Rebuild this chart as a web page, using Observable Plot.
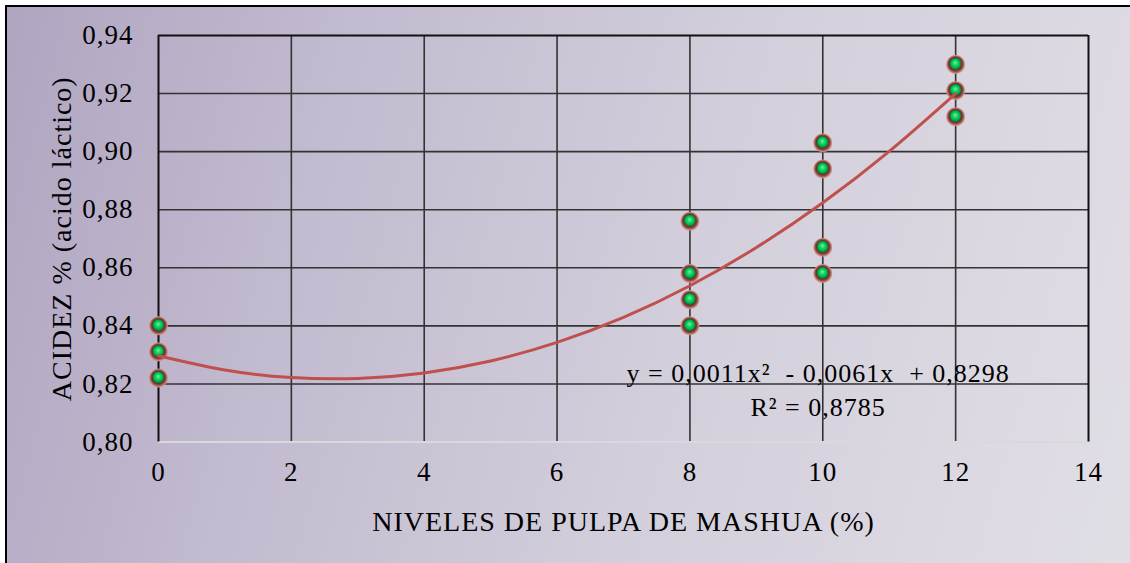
<!DOCTYPE html>
<html>
<head>
<meta charset="utf-8">
<script src="https://cdn.jsdelivr.net/npm/d3@7"></script>
<script src="https://cdn.jsdelivr.net/npm/@observablehq/plot@0.6"></script>
<style>
  html, body { margin: 0; padding: 0; background: #fff; overflow: hidden; }
  #wrap { position: relative; width: 1130px; height: 563px; overflow: hidden; background: #fff; }
  #bg { position: absolute; left: 5px; top: 5px; width: 1200px; height: 600px;
        border-left: 2px solid #000; border-top: 2px solid #000;
        background: linear-gradient(105deg, #b0a5c1 0%, #c2bacf 25%, #d2cedb 55%, #dcd9e2 80%, #e2e0e7 100%); }
  #chart { position: absolute; left: 0; top: 0; }
  #chart svg, #chart svg text { font-family: 'Liberation Serif', 'Times New Roman', serif !important; letter-spacing: 1px; }
</style>
</head>
<body>
<div id="wrap"><div id="bg"></div><div id="chart"></div></div>
<script>
// Observed points
const niveles = [0, 0, 0, 8, 8, 8, 8, 10, 10, 10, 10, 12, 12, 12];
const acidez  = [0.840, 0.831, 0.822, 0.876, 0.858, 0.849, 0.840, 0.903, 0.894, 0.867, 0.858, 0.930, 0.921, 0.912];
// Polynomial trend line
const trendX = [0, 1, 2, 3, 4, 5, 6, 7, 8, 9, 10, 11, 12];
const trendY = [0.8297, 0.8248, 0.8222, 0.8219, 0.8238, 0.8279, 0.8343, 0.8429, 0.8538, 0.8670, 0.8824, 0.9001, 0.9200];
// Ticks
const xTicks = [0, 2, 4, 6, 8, 10, 12, 14];
const yTicks = [0.80, 0.82, 0.84, 0.86, 0.88, 0.90, 0.92, 0.94];
const xLabel = "NIVELES DE PULPA DE MASHUA (%)";
const yLabel = "ACIDEZ % (acido láctico)";
const equation = "y = 0,0011x\u00b2 \u00a0- 0,0061x \u00a0+ 0,8298\nR\u00b2 = 0,8785";

const points = niveles.map((x, i) => ({x, y: acidez[i]}));
const trend = trendX.map((x, i) => ({x, y: trendY[i]}));
const fmt = d => d.toFixed(2).replace(".", ",");
const font = "Liberation Serif";

const chart = Plot.plot({
  width: 1130,
  height: 563,
  marginLeft: 158,
  marginRight: 42,
  marginTop: 35,
  marginBottom: 121.5,
  style: {background: "transparent", color: "#000"},
  x: {domain: [0, 14], ticks: xTicks},
  y: {domain: [0.80, 0.94], ticks: yTicks},
  marks: [
    Plot.gridX(xTicks.filter(d => d > 0 && d < 14), {stroke: "#333", strokeOpacity: 1, strokeWidth: 1.6}),
    Plot.gridY(yTicks.filter(d => d > 0.80 && d < 0.94), {stroke: "#333", strokeOpacity: 1, strokeWidth: 1.6}),
    Plot.ruleY([0.80], {stroke: "#d9d9d9", strokeWidth: 2}),
    Plot.ruleY([0.94], {stroke: "#111", strokeWidth: 2}),
    Plot.ruleX([0], {stroke: "#111", strokeWidth: 2}),
    Plot.ruleX([14], {stroke: "#111", strokeWidth: 2}),
    Plot.axisX({ticks: xTicks, tickSize: 0, tickPadding: 20, label: null, fontSize: 27, fontFamily: font}),
    Plot.axisY({ticks: yTicks, tickSize: 0, tickPadding: 25, tickFormat: fmt, label: null, fontSize: 27, fontFamily: font}),
    Plot.text([xLabel], {frameAnchor: "bottom", dy: 80, fontSize: 28, fontFamily: font, lineAnchor: "middle", textAnchor: "middle", fill: "#000"}),
    Plot.text([yLabel], {frameAnchor: "left", dx: -96, rotate: -90, fontSize: 28, fontFamily: font, lineAnchor: "middle", textAnchor: "middle", fill: "#000"}),
    Plot.dot(points, {x: "x", y: "y", r: 10, fill: "url(#sphere)", stroke: "none"}),
    Plot.line(trend, {x: "x", y: "y", curve: "natural", stroke: "#c0504d", strokeWidth: 3}),
    Plot.text([equation], {x: 9.93, y: 0.8184, fontSize: 26, fontFamily: font, lineAnchor: "middle", lineHeight: 1.3, fill: "#000", textAnchor: "middle"})
  ]
});

const svg = d3.select(chart);
const defs = svg.insert("defs", ":first-child");
const g = defs.append("radialGradient").attr("id", "sphere")
  .attr("cx", "50%").attr("cy", "50%").attr("r", "50%").attr("fx", "48%").attr("fy", "40%");
[[0, "#6ff5a0"], [0.22, "#1fd86a"], [0.45, "#00b050"], [0.56, "#087a36"], [0.62, "#6b2f28"], [0.75, "#9a4a42"], [0.88, "#c48a84"], [1, "rgba(210,160,160,0)"]]
  .forEach(([o, c]) => g.append("stop").attr("offset", o).attr("stop-color", c));

document.getElementById("chart").appendChild(chart);
</script>
</body>
</html>
